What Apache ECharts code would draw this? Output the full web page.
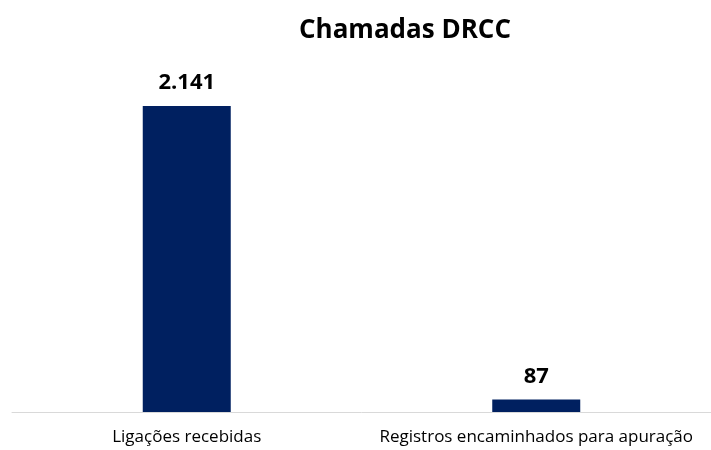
<!DOCTYPE html>
<html>
<head>
<meta charset="utf-8">
<script src="https://cdn.jsdelivr.net/npm/echarts@6/dist/echarts.min.js"></script>
<style>
  html, body { margin: 0; padding: 0; background: #fff; }
  #chart { width: 711px; height: 450px; }
</style>
</head>
<body>
<div id="chart"></div>
<script>
var categories = ['Ligações recebidas', 'Registros encaminhados para apuração'];
var values = [2141, 87];

(function() {
  var myChart = echarts.init(document.getElementById('chart'));
  var option = {
    animation: false,
    title: {
      text: 'Chamadas DRCC',
      left: 400,
      top: 13,
      textAlign: 'center',
      textStyle: {
        fontFamily: 'Open Sans',
        fontWeight: 'bold',
        fontSize: 26,
        color: '#000'
      }
    },
    grid: {
      left: 12,
      right: -2,
      top: 106,
      bottom: 38
    },
    xAxis: {
      type: 'category',
      data: categories,
      axisTick: { show: false },
      axisLine: {
        lineStyle: { color: '#d9d9d9', width: 1 }
      },
      axisLabel: {
        interval: 0,
        hideOverlap: false,
        color: '#000',
        fontFamily: 'Open Sans',
        fontSize: 17,
        margin: 17
      }
    },
    yAxis: {
      type: 'value',
      min: 0,
      max: 2141,
      show: false
    },
    series: [
      {
        type: 'bar',
        data: values,
        barWidth: 88,
        itemStyle: { color: '#002060' },
        label: {
          show: true,
          position: 'top',
          distance: 12,
          color: '#000',
          fontFamily: 'Open Sans',
          fontWeight: 'bold',
          fontSize: 22,
          formatter: function(p) {
            return p.value.toLocaleString('pt-BR');
          }
        }
      }
    ]
  };
  myChart.setOption(option);
})();
</script>
</body>
</html>
